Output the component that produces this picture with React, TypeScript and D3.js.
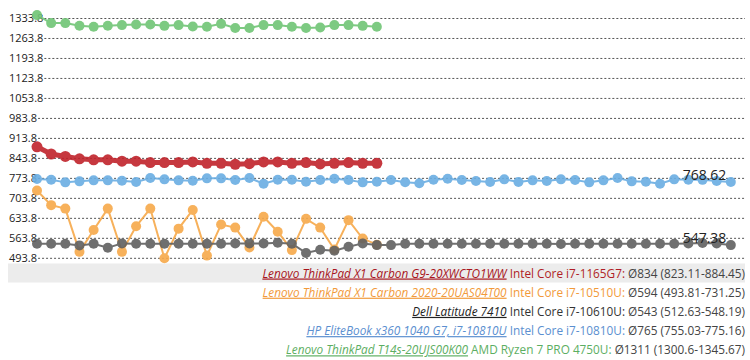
import React from "react";
import * as d3 from "d3";

const tickLabels = ["1333.8", "1263.8", "1193.8", "1123.8", "1053.8", "983.8", "913.8", "843.8", "773.8", "703.8", "633.8", "563.8", "493.8"];

const redValues = [884.45, 859.2, 850.6, 842.3, 838.7, 838.7, 834, 834, 829, 829, 829, 831.5, 826.8, 826.8, 823.11, 825.4, 831.5, 831.5, 826.8, 829, 824.3, 826.8, 829, 826.8, 826.8];
const orangeValues = [731.25, 680, 667.9, 516.4, 592.7, 667.9, 516.4, 606, 667.9, 493.81, 597.7, 663.2, 503.2, 612, 601.3, 531.8, 639.2, 587, 522.5, 632, 601.3, 524.7, 627.4, 563, 541.5];
const grayValues = [545, 545, 545, 539, 545, 531, 546, 545, 545, 545, 545, 545, 545, 545, 546, 546, 546, 548.19, 545, 512.63, 524, 520, 534, 546, 540, 540, 545, 545, 545, 545, 545, 545, 545, 545, 545, 545, 545, 544, 545, 545, 545, 545, 545, 545, 545, 545, 546, 547.38, 546, 540];
const blueValues = [771.7, 769.2, 759.8, 763.3, 766.8, 766.8, 765.7, 761.2, 775.16, 770.3, 766.8, 765.7, 773.8, 773.8, 768.2, 775.1, 755.03, 769.2, 769.2, 762.2, 768.2, 772.7, 768.2, 759.8, 762.2, 768.2, 760.5, 757, 769.2, 772.7, 768.2, 764.7, 761.2, 770.3, 761.2, 766.8, 764.7, 770.3, 768.2, 759.8, 766.8, 775, 763.3, 762.2, 755.03, 770.3, 769.2, 768.62, 764.7, 761.2];
const greenValues = [1345.67, 1317.7, 1317.7, 1308.2, 1304.7, 1308.2, 1310.7, 1313, 1313, 1308, 1310.7, 1306, 1304.7, 1315, 1300.6, 1300.6, 1310.7, 1310.7, 1304.7, 1300.6, 1302, 1310.7, 1310.7, 1308, 1304.7];

const seriesNames = [
  "Lenovo ThinkPad X1 Carbon G9-20XWCTO1WW",
  "Lenovo ThinkPad X1 Carbon 2020-20UAS04T00",
  "Dell Latitude 7410",
  "HP EliteBook x360 1040 G7, i7-10810U",
  "Lenovo ThinkPad T14s-20UJS00K00",
];
const seriesCpus = ["Intel Core i7-1165G7:", "Intel Core i7-10510U:", "Intel Core i7-10610U:", "Intel Core i7-10810U:", "AMD Ryzen 7 PRO 4750U:"];
const seriesStats = ["Ø834 (823.11-884.45)", "Ø594 (493.81-731.25)", "Ø543 (512.63-548.19)", "Ø765 (755.03-775.16)", "Ø1311 (1300.6-1345.67)"];

const annotations = [
  { index: 47, value: 768.62, label: "768.62" },
  { index: 47, value: 547.38, label: "547.38" },
];

const FONT = "'Open Sans', 'Noto Sans', sans-serif";

function measure(text: string, font: string) {
  const c = document.createElement("canvas");
  const ctx = c.getContext("2d");
  if (!ctx) return text.length * 6;
  ctx.font = font;
  return ctx.measureText(text).width;
}

export default function App() {
  const W = 750;
  const H = 360;
  const x = d3.scaleLinear().domain([0, 50]).range([37, 745]);
  const y = d3.scaleLinear().domain([493.8, 1333.8]).range([258.3, 18.5]);

  const series = [
    { values: greenValues, color: "#70c575", width: 2, r: 5 },
    { values: blueValues, color: "#6aaee3", width: 2, r: 5 },
    { values: orangeValues, color: "#f7a94a", width: 2, r: 5 },
    { values: grayValues, color: "#606060", width: 2, r: 5 },
    { values: redValues, color: "#c0232b", width: 5, r: 5.5 },
  ];

  const legendStyle = [
    { name: "#a8141c", cpu: "#b01e26", stat: "#444" },
    { name: "#f29a3a", cpu: "#f29a3a", stat: "#444" },
    { name: "#222", cpu: "#333", stat: "#444" },
    { name: "#5b8fd0", cpu: "#5b8fd0", stat: "#444" },
    { name: "#5cae62", cpu: "#5cae62", stat: "#444" },
  ];

  const line = d3
    .line<number>()
    .x((_, i) => x(i))
    .y((d) => y(d));

  const tickFont = `11px ${FONT}`;

  return (
    <svg width={W} height={H} style={{ position: "absolute", left: 0, top: 0 }} fontFamily={FONT}>
      <rect x={0} y={0} width={W} height={H} fill="#fff" />
      {tickLabels.map((t) => {
        const v = +t;
        const w = measure(t, tickFont);
        return (
          <g key={t}>
            <line x1={9 + w + 1} x2={745} y1={y(v)} y2={y(v)} stroke="#555" strokeDasharray="2,2" strokeWidth={1} />
            <text x={9} y={y(v)} dy="0.35em" fontSize={11} fill="#222">
              {t}
            </text>
          </g>
        );
      })}
      <rect x={8} y={263.5} width={737} height={19} fill="#ececec" />
      {series.map((s, si) => (
        <g key={si} opacity={0.9}>
          <path d={line(s.values) || ""} fill="none" stroke={s.color} strokeWidth={s.width} />
          {s.values.map((v, i) => (
            <circle key={i} cx={x(i)} cy={y(v)} r={s.r} fill={s.color} />
          ))}
        </g>
      ))}
      {annotations.map((a) => (
        <text key={a.label} x={x(a.index) + 2} y={y(a.value)} textAnchor="middle" fontSize={14} fill="#222">
          {a.label}
        </text>
      ))}
      {seriesNames.map((n, i) => (
        <text key={n} x={745} y={277.5 + i * 19.2} textAnchor="end" fontSize={11.8}>
          <tspan fill={legendStyle[i].name} fontStyle="italic" textDecoration="underline">
            {n}
          </tspan>
          <tspan fill={legendStyle[i].cpu}>{" " + seriesCpus[i] + " "}</tspan>
          <tspan fill={legendStyle[i].stat}>{seriesStats[i]}</tspan>
        </text>
      ))}
    </svg>
  );
}
